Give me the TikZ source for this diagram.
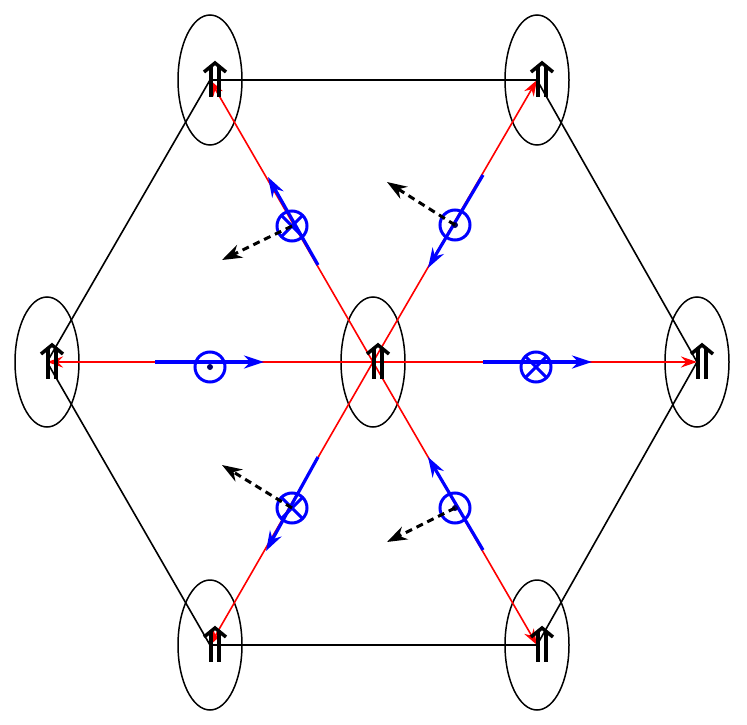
\documentclass[tikz,border=0pt]{standalone}
\usetikzlibrary{arrows.meta,shapes.geometric}
\begin{document}
\begin{tikzpicture}[x=1pt,y=-1pt,
  site/.style={draw,line width=1.5pt,ellipse,minimum width=64pt,minimum height=130pt,inner sep=0pt},
  hexedge/.style={line width=1.6pt,black},
  spoke/.style={red,line width=1.6pt,-{Stealth[length=16pt,width=11pt]}},
  bluearr/.style={blue,line width=3.2pt,-{Stealth[length=20pt,width=13pt]}},
  ring/.style={blue,line width=3pt,circle,draw,minimum size=30pt,inner sep=0pt},
  dash arrow/.style={black,line width=3pt,dash pattern=on 7pt off 5pt,-{Stealth[length=20pt,width=14pt]}},
  uparr/.pic={\draw[line width=3.5pt] (-4,-13)--(-4,17) (4,-13)--(4,17);
              \draw[line width=3.5pt] (-11,-8)--(0,-17)--(11,-8);}]
\useasboundingbox (0,0) rectangle (747,725);
\coordinate (C) at (373,362);
\coordinate (V1) at (210,80);
\coordinate (V2) at (537,80);
\coordinate (V3) at (697,362);
\coordinate (V4) at (537,645);
\coordinate (V5) at (210,645);
\coordinate (V6) at (47,362);
\draw[hexedge] (V1)--(V2)--(V3)--(V4)--(V5)--(V6)--cycle;
\foreach \v in {C,V1,V2,V3,V4,V5,V6}{
  \node[site] (e\v) at (\v) {};
}
\foreach \v in {V1,V2,V3,V4,V5,V6}{
  \draw[spoke] (C)--(\v);
}
\foreach \v in {C,V1,V2,V3,V4,V5,V6}{
  \pic at ([xshift=5pt]\v) {uparr};
}
% blue segments
\coordinate (b1a) at (483,362); \coordinate (b1b) at (592,362);
\coordinate (b2a) at (155,362); \coordinate (b2b) at (264,362);
\coordinate (b3a) at (318,265); \coordinate (b3b) at (268,177);
\coordinate (b4a) at (483,175); \coordinate (b4b) at (428,268);
\coordinate (b5a) at (318,457); \coordinate (b5b) at (266,551);
\coordinate (b6a) at (483,550); \coordinate (b6b) at (428,457);
\foreach \i in {1,...,6}{\draw[bluearr] (b\i a)--(b\i b);}
% rings
\node[ring] (r1) at (536,367) {};
\node[ring] (r2) at (210,367) {};
\node[ring] (r3) at (292,226) {};
\node[ring] (r4) at (455,225) {};
\node[ring] (r5) at (292,508) {};
\node[ring] (r6) at (455,508) {};
\foreach \r in {r1,r3,r5}{
  \draw[blue,line width=3pt] ([shift={(-10.6,-10.6)}]\r.center)--([shift={(10.6,10.6)}]\r.center)
    ([shift={(-10.6,10.6)}]\r.center)--([shift={(10.6,-10.6)}]\r.center);
}
\foreach \r in {r2,r4,r6}{
  \fill[blue!40!black] (\r.center) circle (3pt);
}
% dashed arrows
\coordinate (d3) at (222,260);
\coordinate (d4) at (387,182);
\coordinate (d5) at (222,465);
\coordinate (d6) at (387,542);
\foreach \i in {3,4,5,6}{\draw[dash arrow] (r\i.center)--(d\i);}
\end{tikzpicture}
\end{document}
